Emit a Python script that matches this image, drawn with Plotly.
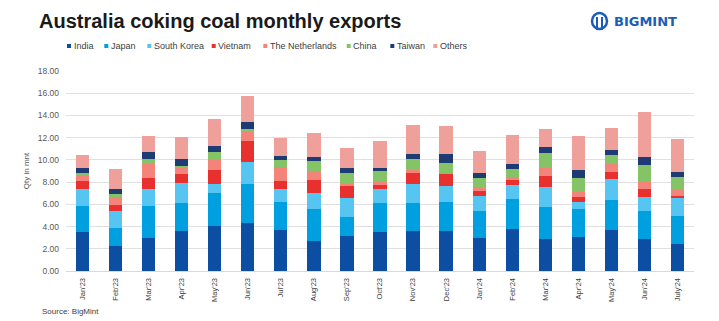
import plotly.graph_objects as go

months = ["Jan'23", "Feb'23", "Mar'23", "Apr'23", "May'23", "Jun'23", "Jul'23", "Aug'23",
          "Sep'23", "Oct'23", "Nov'23", "Dec'23", "Jan'24", "Feb'24", "Mar'24", "Apr'24",
          "May'24", "Jun'24", "July'24"]

india       = [3.49, 2.21, 3.01, 3.61, 4.03, 4.30, 3.73, 2.66, 3.19, 3.49, 3.64, 3.61, 2.96, 3.82, 2.90, 3.10, 3.67, 2.90, 2.39]
japan       = [2.35, 1.64, 2.84, 2.48, 2.96, 3.55, 2.45, 2.89, 1.71, 2.60, 2.45, 2.57, 2.47, 2.66, 2.83, 2.45, 2.69, 2.53, 2.60]
south_korea = [1.50, 1.58, 1.49, 1.79, 0.80, 2.00, 1.22, 1.46, 1.64, 1.25, 1.76, 1.49, 1.35, 1.28, 1.82, 0.66, 1.94, 1.23, 1.55]
vietnam     = [0.78, 0.54, 0.99, 0.84, 1.34, 1.82, 0.72, 1.14, 1.13, 0.39, 0.99, 1.08, 0.44, 0.42, 1.02, 0.48, 0.63, 0.71, 0.24]
netherlands = [0.60, 0.66, 1.28, 0.53, 0.90, 0.84, 1.22, 0.84, 0.18, 0.39, 0.29, 0.06, 0.21, 0.24, 0.74, 0.41, 0.68, 0.60, 0.47]
china       = [0.08, 0.27, 0.51, 0.21, 0.69, 0.27, 0.63, 0.89, 0.99, 0.87, 0.96, 0.92, 0.90, 0.74, 1.32, 1.29, 0.84, 1.58, 1.17]
taiwan      = [0.50, 0.47, 0.57, 0.60, 0.50, 0.65, 0.42, 0.39, 0.41, 0.32, 0.42, 0.78, 0.45, 0.45, 0.50, 0.68, 0.42, 0.75, 0.45]
others      = [1.16, 1.82, 1.46, 2.00, 2.48, 2.30, 1.61, 2.15, 1.85, 2.39, 2.59, 2.50, 2.00, 2.60, 1.62, 3.08, 2.03, 3.97, 3.04]

series_names = ["India", "Japan", "South Korea", "Vietnam", "The Netherlands", "China", "Taiwan", "Others"]
series_values = [india, japan, south_korea, vietnam, netherlands, china, taiwan, others]
colors = ["#0b4ea2", "#00a0e0", "#56c5f2", "#e8302e", "#f4837a", "#84c466", "#1f3b73", "#f0a09b"]

y_ticks = [0, 2, 4, 6, 8, 10, 12, 14, 16, 18]

W, H = 719, 321
L, R, T, B = 66, 25, 71, 50
PW = W - L - R
PH = H - T - B

def px_x(x):
    return (x - L) / PW

def px_y(y):
    return (H - B - y) / PH

fig = go.Figure()
for name, vals, col in zip(series_names, series_values, colors):
    fig.add_trace(go.Bar(x=months, y=vals, name=name, marker=dict(color=col, line=dict(width=0)),
                         showlegend=False))

# Manual compact legend (matches reference spacing)
legend_marker_x = [69, 106.3, 149.3, 213.7, 265.3, 348.7, 392.3, 435.3]
legend_y = 46
shapes = []
annotations = []
for name, col, mx in zip(series_names, colors, legend_marker_x):
    shapes.append(dict(type="rect", xref="paper", yref="paper",
                       x0=px_x(mx - 2), x1=px_x(mx + 2), y0=px_y(legend_y - 2), y1=px_y(legend_y + 2),
                       fillcolor=col, line=dict(width=0)))
    annotations.append(dict(text=name, xref="paper", yref="paper", x=px_x(mx + 2.5), y=px_y(legend_y),
                            xanchor="left", yanchor="middle", showarrow=False,
                            font=dict(family="Liberation Sans, Arial", size=9, color="#404040")))

# Source note
annotations.append(dict(text="Source: BigMint", xref="paper", yref="paper", x=px_x(40), y=px_y(311),
                        xanchor="left", yanchor="middle", showarrow=False,
                        font=dict(family="Liberation Sans, Arial", size=8, color="#404040")))

# Logo text
annotations.append(dict(text="<b>BIGMINT</b>", xref="paper", yref="paper", x=px_x(612), y=px_y(21),
                        xanchor="left", yanchor="middle", showarrow=False,
                        font=dict(family="DejaVu Sans, Liberation Sans", size=13, color="#1c5cb8")))
# Logo icon
shapes.append(dict(type="circle", xref="paper", yref="paper",
                   x0=px_x(592), x1=px_x(607), y0=px_y(29), y1=px_y(13),
                   line=dict(color="#1c5cb8", width=2.5), fillcolor="rgba(0,0,0,0)"))
shapes.append(dict(type="line", xref="paper", yref="paper",
                   x0=px_x(597), x1=px_x(597), y0=px_y(17), y1=px_y(30),
                   line=dict(color="#1c5cb8", width=2)))
shapes.append(dict(type="line", xref="paper", yref="paper",
                   x0=px_x(602), x1=px_x(602), y0=px_y(17), y1=px_y(30),
                   line=dict(color="#1c5cb8", width=2)))

fig.update_layout(
    width=W, height=H,
    margin=dict(l=L, r=R, t=T, b=B),
    barmode="stack",
    bargap=0.6,
    plot_bgcolor="white",
    paper_bgcolor="white",
    title=dict(text="<b>Australia coking coal monthly exports</b>",
               xref="container", yref="container", x=39 / W, y=1 - 21 / H,
               xanchor="left", yanchor="middle",
               font=dict(family="Liberation Sans, Arial", size=20, color="#1a1a1a")),
    shapes=shapes,
    annotations=annotations,
    xaxis=dict(
        type="category",
        tickangle=-90,
        tickfont=dict(family="Liberation Sans, Arial", size=7.5, color="#404040"),
        showgrid=False,
        showline=True, linecolor="#d9d9d9", linewidth=1,
        ticks="", ticklabelstandoff=3,
    ),
    yaxis=dict(
        range=[0, 18],
        tickvals=y_ticks,
        tickformat=".2f",
        tickfont=dict(family="Liberation Sans, Arial", size=8.5, color="#595959"),
        showgrid=True, gridcolor="#e0e0e0", gridwidth=1,
        zeroline=False,
        ticks="", ticklabelstandoff=6,
        title=dict(text="Qty in mnt", standoff=6,
                   font=dict(family="Liberation Sans, Arial", size=8, color="#595959")),
    ),
    showlegend=False,
)

fig.write_html("out.html")
